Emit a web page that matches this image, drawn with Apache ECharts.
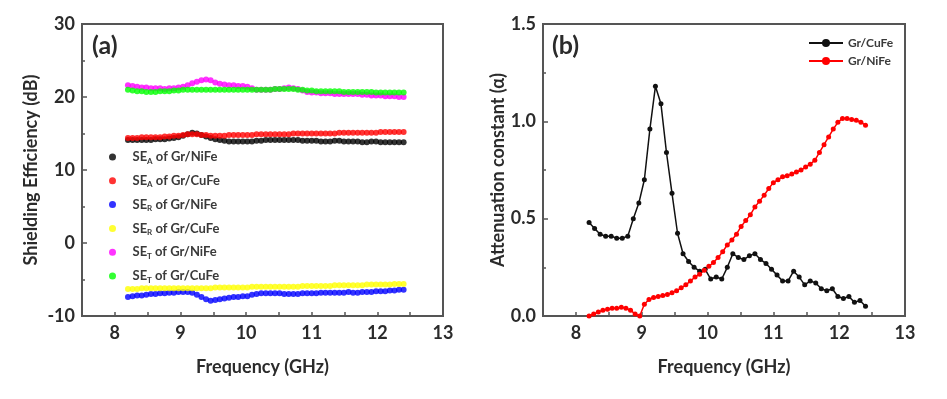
<!DOCTYPE html>
<html>
<head>
<meta charset="utf-8">
<script src="https://cdn.jsdelivr.net/npm/echarts@6/dist/echarts.min.js"></script>
<style>
  html, body { margin: 0; padding: 0; background: #fff; }
  #chart { width: 947px; height: 399px; }
</style>
</head>
<body>
<div id="chart"></div>
<script>
  // frequency grids (GHz)
  var freqDense = [8.20, 8.27, 8.34, 8.41, 8.48, 8.55, 8.62, 8.69, 8.76, 8.83,
    8.90, 8.97, 9.04, 9.11, 9.18, 9.25, 9.32, 9.39, 9.46, 9.53,
    9.60, 9.67, 9.74, 9.81, 9.88, 9.95, 10.02, 10.09, 10.16, 10.23,
    10.30, 10.37, 10.44, 10.51, 10.58, 10.65, 10.72, 10.79, 10.86, 10.93,
    11.00, 11.07, 11.14, 11.21, 11.28, 11.35, 11.42, 11.49, 11.56, 11.63,
    11.70, 11.77, 11.84, 11.91, 11.98, 12.05, 12.12, 12.19, 12.26, 12.33,
    12.40]
  var freqCoarse = [8.200, 8.284, 8.368, 8.452, 8.536, 8.620, 8.704, 8.788, 8.872, 8.956,
    9.040, 9.124, 9.208, 9.292, 9.376, 9.460, 9.544, 9.628, 9.712, 9.796,
    9.880, 9.964, 10.048, 10.132, 10.216, 10.300, 10.384, 10.468, 10.552, 10.636,
    10.720, 10.804, 10.888, 10.972, 11.056, 11.140, 11.224, 11.308, 11.392, 11.476,
    11.560, 11.644, 11.728, 11.812, 11.896, 11.980, 12.064, 12.148, 12.232, 12.316,
    12.400]

  // (a) shielding efficiency, dB
  var seA_NiFe = [14.1, 14.1, 14.1, 14.1, 14.1, 14.1, 14.2, 14.2, 14.2, 14.3,
    14.4, 14.5, 14.7, 14.9, 15.1, 15.0, 14.8, 14.6, 14.4, 14.2,
    14.1, 14.0, 13.9, 13.9, 13.9, 13.9, 13.9, 13.9, 14.0, 14.0,
    14.1, 14.1, 14.1, 14.1, 14.1, 14.1, 14.1, 14.1, 14.0, 14.0,
    14.0, 14.0, 13.9, 13.9, 13.9, 14.0, 14.0, 13.9, 13.9, 13.9,
    13.9, 13.8, 13.8, 13.9, 13.9, 13.8, 13.8, 13.8, 13.8, 13.8,
    13.8]
  var seA_CuFe = [14.4, 14.4, 14.4, 14.5, 14.5, 14.5, 14.5, 14.5, 14.6, 14.6,
    14.7, 14.7, 14.8, 14.9, 14.9, 14.9, 14.8, 14.8, 14.7, 14.7,
    14.7, 14.7, 14.8, 14.8, 14.8, 14.8, 14.8, 14.8, 14.9, 14.9,
    14.9, 14.9, 14.9, 14.9, 14.9, 14.9, 15.0, 15.0, 15.0, 15.0,
    15.0, 15.0, 15.0, 15.0, 15.0, 15.0, 15.1, 15.1, 15.1, 15.1,
    15.1, 15.1, 15.1, 15.1, 15.1, 15.2, 15.2, 15.2, 15.2, 15.2,
    15.2]
  var seR_NiFe = [-7.4, -7.3, -7.2, -7.2, -7.1, -7.0, -7.0, -6.9, -6.9, -6.8,
    -6.8, -6.7, -6.7, -6.7, -6.8, -7.1, -7.4, -7.7, -7.9, -7.8,
    -7.7, -7.6, -7.5, -7.4, -7.4, -7.3, -7.3, -7.1, -7.0, -6.9,
    -6.9, -6.9, -6.9, -6.9, -7.0, -7.0, -7.0, -7.0, -6.9, -6.9,
    -6.9, -6.9, -6.8, -6.8, -6.8, -6.8, -6.8, -6.8, -6.7, -6.8,
    -6.8, -6.7, -6.7, -6.7, -6.6, -6.6, -6.6, -6.5, -6.5, -6.4,
    -6.4]
  var seR_CuFe = [-6.3, -6.3, -6.3, -6.2, -6.2, -6.2, -6.2, -6.2, -6.2, -6.2,
    -6.2, -6.2, -6.2, -6.2, -6.2, -6.2, -6.2, -6.2, -6.2, -6.1,
    -6.1, -6.1, -6.1, -6.1, -6.1, -6.1, -6.1, -6.0, -6.0, -6.0,
    -6.0, -6.0, -6.0, -6.0, -6.0, -6.0, -6.0, -6.0, -5.9, -5.9,
    -5.9, -5.9, -5.9, -5.9, -5.9, -5.8, -5.8, -5.8, -5.8, -5.8,
    -5.8, -5.8, -5.7, -5.7, -5.7, -5.7, -5.7, -5.7, -5.6, -5.6,
    -5.6]
  var seT_NiFe = [21.6, 21.5, 21.4, 21.3, 21.3, 21.2, 21.2, 21.2, 21.1, 21.2,
    21.2, 21.3, 21.4, 21.6, 21.9, 22.1, 22.3, 22.4, 22.3, 22.0,
    21.8, 21.7, 21.6, 21.6, 21.5, 21.5, 21.4, 21.2, 21.0, 21.0,
    21.0, 21.0, 21.1, 21.1, 21.2, 21.3, 21.2, 21.1, 20.9, 20.7,
    20.6, 20.6, 20.5, 20.5, 20.5, 20.4, 20.4, 20.4, 20.4, 20.4,
    20.4, 20.3, 20.3, 20.2, 20.2, 20.2, 20.1, 20.1, 20.1, 20.0,
    20.0]
  var seT_CuFe = [21.0, 20.9, 20.8, 20.8, 20.7, 20.7, 20.7, 20.8, 20.8, 20.8,
    20.9, 20.9, 21.0, 21.0, 21.0, 21.0, 21.0, 21.0, 21.0, 21.0,
    21.0, 21.0, 21.0, 21.0, 21.0, 21.0, 21.0, 21.0, 21.0, 21.0,
    21.0, 21.0, 21.1, 21.1, 21.1, 21.1, 21.1, 21.0, 21.0, 20.9,
    20.9, 20.8, 20.8, 20.8, 20.8, 20.8, 20.8, 20.7, 20.7, 20.7,
    20.7, 20.7, 20.7, 20.7, 20.6, 20.6, 20.6, 20.6, 20.6, 20.6,
    20.6]

  // (b) attenuation constant
  var alphaCuFe = [0.48, 0.45, 0.42, 0.41, 0.41, 0.40, 0.40, 0.41, 0.50, 0.58,
    0.70, 0.96, 1.18, 1.09, 0.84, 0.63, 0.425, 0.32, 0.28, 0.25,
    0.23, 0.24, 0.19, 0.20, 0.19, 0.25, 0.32, 0.30, 0.29, 0.31,
    0.32, 0.29, 0.27, 0.24, 0.21, 0.18, 0.18, 0.23, 0.20, 0.16,
    0.18, 0.17, 0.14, 0.13, 0.14, 0.10, 0.09, 0.10, 0.07, 0.08,
    0.05]
  var alphaNiFe = [0.00, 0.01, 0.02, 0.03, 0.035, 0.04, 0.04, 0.045, 0.04, 0.03,
    0.01, 0.00, 0.06, 0.085, 0.095, 0.10, 0.105, 0.11, 0.12, 0.13,
    0.145, 0.16, 0.18, 0.20, 0.215, 0.235, 0.255, 0.275, 0.30, 0.33,
    0.365, 0.39, 0.42, 0.46, 0.49, 0.52, 0.56, 0.59, 0.62, 0.655,
    0.685, 0.70, 0.715, 0.72, 0.73, 0.74, 0.75, 0.765, 0.78, 0.80,
    0.84, 0.88, 0.92, 0.96, 0.995, 1.015, 1.015, 1.01, 1.005, 0.995,
    0.98]

  var font = 'Lato'
  var axisColor = '#555'
  var textColor = '#2b2b2b'

  function pairs (xs, ys) {
    return xs.map(function (x, i) { return [x, ys[i]] })
  }

  // legend labels with subscripts
  var seLabels = {
    'SEA of Gr/NiFe': '{a|SE}{s|A}{a| of Gr/NiFe}',
    'SEA of Gr/CuFe': '{a|SE}{s|A}{a| of Gr/CuFe}',
    'SER of Gr/NiFe': '{a|SE}{s|R}{a| of Gr/NiFe}',
    'SER of Gr/CuFe': '{a|SE}{s|R}{a| of Gr/CuFe}',
    'SET of Gr/NiFe': '{a|SE}{s|T}{a| of Gr/NiFe}',
    'SET of Gr/CuFe': '{a|SE}{s|T}{a| of Gr/CuFe}'
  }

  function xAxisFor (idx) {
    return {
      type: 'value',
      gridIndex: idx,
      min: 7.5,
      max: 13,
      interval: 0.5,
      name: 'Frequency (GHz)',
      nameLocation: 'middle',
      nameGap: 42,
      nameTextStyle: { fontFamily: font, fontWeight: 'bold', fontSize: 18, color: textColor },
      axisLine: { onZero: false, lineStyle: { color: axisColor, width: 2 } },
      axisTick: { inside: true, length: 4, lineStyle: { color: axisColor, width: 1.5 } },
      axisLabel: {
        margin: 8,
        fontFamily: font, fontWeight: 'bold', fontSize: 18, color: textColor,
        formatter: function (v) { return v % 1 === 0 ? String(v) : '' }
      },
      splitLine: { show: false }
    }
  }

  function yAxisFor (idx, opts) {
    return {
      type: 'value',
      gridIndex: idx,
      min: opts.min,
      max: opts.max,
      interval: opts.interval,
      name: opts.name,
      nameLocation: 'middle',
      nameGap: opts.nameGap,
      nameTextStyle: { fontFamily: font, fontWeight: 'bold', fontSize: 18, color: textColor },
      axisLine: { onZero: false, lineStyle: { color: axisColor, width: 2 } },
      axisTick: { inside: true, length: 5, lineStyle: { color: axisColor, width: 1.5 } },
      minorTick: { show: true, splitNumber: 2, length: 3, lineStyle: { color: axisColor, width: 1.5 } },
      axisLabel: {
        margin: 7,
        fontFamily: font, fontWeight: 'bold', fontSize: 18, color: textColor,
        formatter: opts.formatter
      },
      splitLine: { show: false },
      minorSplitLine: { show: false }
    }
  }

  function seSeries (name, ys, color) {
    return {
      name: name,
      type: 'scatter',
      xAxisIndex: 0,
      yAxisIndex: 0,
      symbol: 'circle',
      symbolSize: 6,
      itemStyle: { color: color },
      data: pairs(freqDense, ys)
    }
  }

  var chart = echarts.init(document.getElementById('chart'), null, { renderer: 'canvas' })
  chart.setOption({
    backgroundColor: '#fff',
    animation: false,
    grid: [
      { left: 82, top: 24, width: 361, height: 292, show: true, borderColor: axisColor, borderWidth: 2 },
      { left: 543, top: 24, width: 362, height: 292, show: true, borderColor: axisColor, borderWidth: 2 }
    ],
    xAxis: [xAxisFor(0), xAxisFor(1)],
    yAxis: [
      yAxisFor(0, { min: -10, max: 30, interval: 10, name: 'Shielding Efficiency (dB)', nameGap: 42 }),
      yAxisFor(1, {
        min: 0, max: 1.5, interval: 0.5, name: 'Attenuation constant (\u03b1)', nameGap: 35,
        formatter: function (v) { return v.toFixed(1) }
      })
    ],
    legend: [{
      data: Object.keys(seLabels),
      orient: 'vertical',
      left: 104,
      top: 145,
      icon: 'circle',
      itemWidth: 30,
      itemHeight: 7,
      itemGap: 8.8,
      formatter: function (name) { return seLabels[name] },
      textStyle: {
        rich: {
          a: { fontFamily: font, fontWeight: 'bold', fontSize: 13, color: '#3a3a3a', lineHeight: 16 },
          s: { fontFamily: font, fontWeight: 'bold', fontSize: 8, color: '#3a3a3a', lineHeight: 16, verticalAlign: 'bottom', padding: [7, 0, 0, 0] }
        }
      }
    }, {
      data: ['Gr/CuFe', 'Gr/NiFe'],
      orient: 'vertical',
      left: 803,
      top: 32,
      itemWidth: 34,
      itemHeight: 10,
      itemGap: 6,
      textStyle: { fontFamily: font, fontWeight: 'bold', fontSize: 12, color: '#3a3a3a' }
    }],
    graphic: [
      { type: 'text', left: 92, top: 33, style: { text: '(a)', fontFamily: font, fontWeight: 'bold', fontSize: 25, fill: textColor } },
      { type: 'text', left: 552, top: 33, style: { text: '(b)', fontFamily: font, fontWeight: 'bold', fontSize: 25, fill: textColor } }
    ],
    series: [
      seSeries('SEA of Gr/NiFe', seA_NiFe, '#000000'),
      seSeries('SEA of Gr/CuFe', seA_CuFe, '#ff0000'),
      seSeries('SER of Gr/NiFe', seR_NiFe, '#0000ff'),
      seSeries('SER of Gr/CuFe', seR_CuFe, '#ffff00'),
      seSeries('SET of Gr/NiFe', seT_NiFe, '#ff00ff'),
      seSeries('SET of Gr/CuFe', seT_CuFe, '#00ff00'),
      {
        name: 'Gr/CuFe',
        type: 'line',
        xAxisIndex: 1,
        yAxisIndex: 1,
        symbol: 'circle',
        symbolSize: 5,
        lineStyle: { color: '#111', width: 1.5 },
        itemStyle: { color: '#111' },
        data: pairs(freqCoarse, alphaCuFe)
      },
      {
        name: 'Gr/NiFe',
        type: 'line',
        xAxisIndex: 1,
        yAxisIndex: 1,
        symbol: 'circle',
        symbolSize: 5,
        lineStyle: { color: '#ff0000', width: 1.5 },
        itemStyle: { color: '#ff0000' },
        data: pairs(freqDense, alphaNiFe)
      }
    ]
  })
</script>
</body>
</html>
